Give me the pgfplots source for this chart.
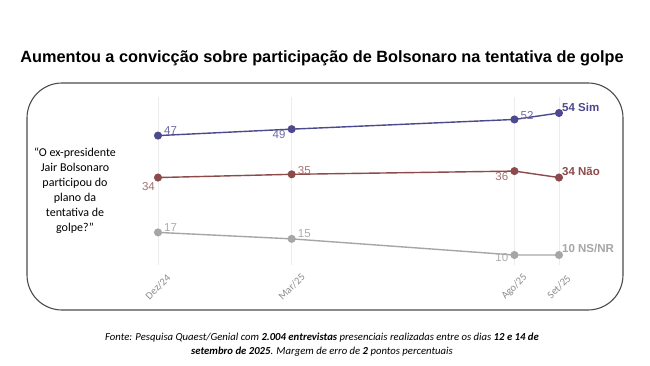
\documentclass[border=0pt]{standalone}
\usepackage{pgfplots}
\pgfplotsset{compat=1.18}
\usepackage{fontspec}
\setmainfont{Liberation Sans}
\newfontfamily\carlito{Carlito}
\definecolor{simcol}{RGB}{76,73,140}
\definecolor{simlab}{RGB}{110,108,165}
\definecolor{naocol}{RGB}{140,74,74}
\definecolor{naolab}{RGB}{165,115,115}
\definecolor{nscol}{RGB}{166,166,166}
\definecolor{nslab}{RGB}{172,172,172}
\definecolor{gridc}{RGB}{236,236,236}
\begin{document}
\begin{tikzpicture}[x=1pt,y=1pt]
\path[fill=white] (0,0) rectangle (650,365);
% title
\node[anchor=base,inner sep=0pt,font=\fontsize{16.3}{20}\selectfont\bfseries] at (322,302) {Aumentou a convicção sobre participação de Bolsonaro na tentativa de golpe};
% frame
\draw[color=black!70,line width=1.1pt,rounded corners=35pt] (27,55) rectangle (623,282);
% question
\node[align=center,inner sep=0pt,anchor=base,font=\carlito\fontsize{12}{14.9}\selectfont] at (75,134) {“O ex-presidente\\Jair Bolsonaro\\participou do\\plano da\\tentativa de\\golpe?”};
% footnote
\node[align=center,inner sep=0pt,anchor=base,font=\carlito\itshape\fontsize{10.7}{14}\selectfont] at (322,11) {Fonte: Pesquisa Quaest/Genial com \textbf{2.004 entrevistas} presenciais realizadas entre os dias \textbf{12 e 14 de}\\\textbf{setembro de 2025}. Margem de erro de \textbf{2} pontos percentuais};
\begin{axis}[
  at={(158pt,100pt)}, anchor=south west,
  scale only axis, width=401pt, height=168pt,
  xmin=0, xmax=9, ymin=6.9, ymax=58.96,
  clip=false,
  axis line style={draw=none},
  ytick=\empty,
  xtick={0,3,8,9},
  xticklabels={Dez/24,Mar/25,Ago/25,Set/25},
  major tick length=0pt,
  xmajorgrids, grid style={gridc,line width=0.8pt},
  xticklabel style={font=\carlito\fontsize{10.5}{12}\selectfont, text=black!45, yshift=-22pt, rotate=45, anchor=center},
  every axis plot/.append style={line width=1.4pt, mark=*, mark size=3.3pt},
]
\addplot[color=simcol, mark options={fill=simcol}] coordinates {(0,47) (3,49) (8,52) (9,54)};
\addplot[color=naocol, mark options={fill=naocol}] coordinates {(0,34) (3,35) (8,36) (9,34)};
\addplot[color=nscol, mark options={fill=nscol}] coordinates {(0,17) (3,15) (8,10) (9,10)};
\begin{scope}[every node/.style={font=\fontsize{11.5}{13}\selectfont, inner sep=0pt}]
\node[anchor=base west, text=simlab] at (axis cs:0,47) [xshift=6pt,yshift=1pt] {47};
\node[anchor=north east, text=simlab] at (axis cs:3,49) [xshift=-6pt,yshift=-1pt] {49};
\node[anchor=base west, text=simlab] at (axis cs:8,52) [xshift=6pt,yshift=-0.5pt] {52};
\node[anchor=base west, text=simcol] at (axis cs:9,54) [xshift=3pt,yshift=2pt] {\bfseries 54 Sim};
\node[anchor=north east, text=naolab] at (axis cs:0,34) [xshift=-3pt,yshift=-5pt] {34};
\node[anchor=base west, text=naolab] at (axis cs:3,35) [xshift=6pt,yshift=0pt] {35};
\node[anchor=north east, text=naolab] at (axis cs:8,36) [xshift=-6pt,yshift=-1pt] {36};
\node[anchor=base west, text=naocol] at (axis cs:9,34) [xshift=3pt,yshift=2pt] {\bfseries 34 Não};
\node[anchor=base west, text=nslab] at (axis cs:0,17) [xshift=6pt,yshift=1pt] {17};
\node[anchor=base west, text=nslab] at (axis cs:3,15) [xshift=6pt,yshift=1pt] {15};
\node[anchor=north east, text=nslab] at (axis cs:8,10) [xshift=-6pt,yshift=2pt] {10};
\node[anchor=base west, text=nscol] at (axis cs:9,10) [xshift=3pt,yshift=3pt] {\bfseries 10 NS/NR};
\end{scope}
\end{axis}
\end{tikzpicture}
\end{document}
